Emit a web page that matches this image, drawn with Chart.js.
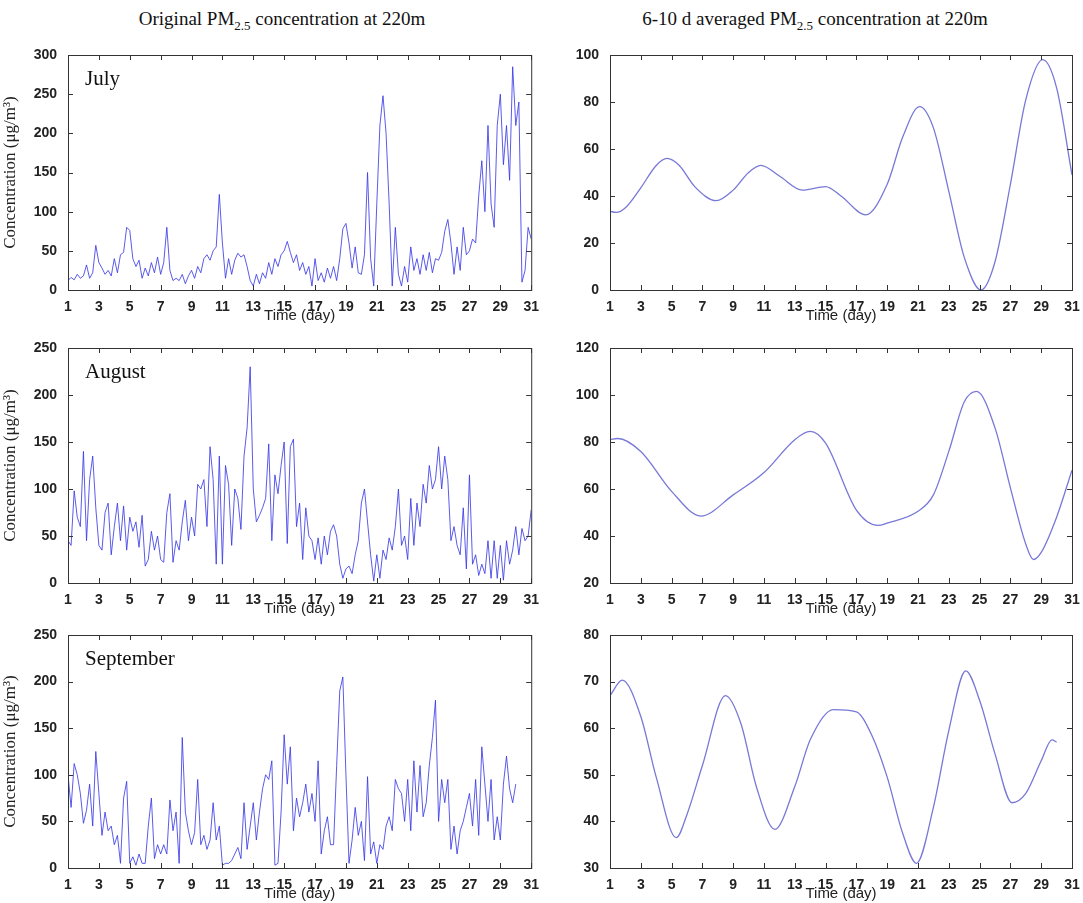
<!DOCTYPE html>
<html>
<head>
<meta charset="utf-8">
<title>PM2.5 concentration at 220m</title>
<script src="https://cdn.jsdelivr.net/npm/chart.js@4.4.1/dist/chart.umd.min.js"></script>
<style>
    body { margin: 0; background: #fff; width: 1083px; height: 903px; position: relative; overflow: hidden; }
    .head { position: absolute; top: 8px; font: 19px "Liberation Serif", serif; color: #111; white-space: nowrap; transform: translateX(-50%); }
    .head sub { font-size: 13px; }
    canvas { position: absolute; }
</style>
</head>
<body>
<div class="head" style="left:282px">Original PM<sub>2.5</sub> concentration at 220m</div>
<div class="head" style="left:815px">6-10 d averaged PM<sub>2.5</sub> concentration at 220m</div>

<canvas id="julyRaw" width="540" height="285" style="left:0;top:40px"></canvas>
<canvas id="julyAvg" width="543" height="285" style="left:540px;top:40px"></canvas>
<canvas id="augRaw" width="540" height="285" style="left:0;top:333px"></canvas>
<canvas id="augAvg" width="543" height="285" style="left:540px;top:333px"></canvas>
<canvas id="sepRaw" width="540" height="285" style="left:0;top:618px"></canvas>
<canvas id="sepAvg" width="543" height="285" style="left:540px;top:618px"></canvas>

<script>
// Sampling of the original series (read every 0.2 day, starting at day 1)
const DAY_STEP = 0.2;

// July, original concentration (ug/m3)
const julyRaw = [
    12, 16, 13, 20, 15,   18, 32, 15, 22, 57,   35, 28, 20, 25, 18,   40, 22, 45, 48, 80,
    76, 40, 30, 38, 15,   28, 18, 35, 22, 42,   20, 35, 80, 25, 12,   15, 12, 20, 8, 18,
    25, 15, 30, 22, 40,   45, 38, 50, 55, 122,  60, 15, 40, 20, 38,   47, 42, 45, 30, 12,
    5, 20, 8, 22, 15,     35, 20, 40, 30, 45,   50, 62, 48, 35, 45,   25, 35, 20, 30, 5,
    40, 12, 22, 10, 28,   15, 30, 12, 40, 78,   85, 60, 28, 55, 22,   20, 45, 150, 40, 5,
    110, 210, 248, 200, 110,  5, 80, 20, 5, 30,  10, 55, 25, 40, 20,  45, 25, 48, 22, 40,
    38, 48, 75, 90, 60,   20, 55, 25, 80, 45,   50, 65, 60, 120, 165, 100, 210, 110, 80, 210,
    250, 160, 210, 140, 285,  210, 240, 10, 25, 80,  65
];

// August, original concentration
const augRaw = [
    45, 40, 98, 70, 60,   140, 45, 110, 135, 80,  40, 35, 75, 85, 30,   60, 85, 45, 82, 35,
    70, 55, 65, 38, 72,   18, 25, 55, 35, 50,     25, 22, 75, 95, 22,   45, 35, 65, 88, 45,
    70, 50, 105, 100, 110, 60, 145, 110, 20, 135, 20, 125, 105, 40, 100, 90, 57, 135, 165, 230,
    100, 65, 72, 80, 90,  148, 45, 115, 95, 125,  150, 42, 145, 153, 60, 85, 25, 80, 50, 45,
    25, 48, 20, 50, 30,   55, 62, 50, 20, 5,      15, 18, 10, 30, 45,   85, 100, 65, 30, 2,
    30, 5, 35, 25, 48,    35, 60, 100, 40, 50,    25, 90, 40, 85, 60,   105, 85, 125, 100, 110,
    145, 100, 135, 110, 45, 60, 40, 30, 80, 15,   115, 20, 30, 8, 20,   10, 45, 5, 45, 5,
    40, 3, 45, 20, 35,    60, 30, 58, 45, 50,     78
];

// September, original concentration (ends on day 30)
const sepRaw = [
    100, 65, 112, 100, 80, 48, 62, 90, 45, 125,   80, 35, 60, 40, 45,   25, 35, 5, 75, 93,
    5, 12, 3, 15, 5,      5, 45, 75, 10, 25,      15, 25, 15, 73, 40,   60, 5, 140, 60, 40,
    25, 38, 95, 25, 35,   20, 30, 70, 30, 45,     3, 5, 5, 8, 15,       22, 10, 70, 20, 45,
    70, 30, 60, 85, 100,  95, 115, 3, 5, 60,      143, 90, 130, 40, 75, 55, 70, 90, 60, 80,
    50, 115, 15, 40, 55,  25, 25, 110, 190, 205,  100, 5, 30, 65, 35,   50, 8, 98, 15, 28,
    5, 25, 20, 45, 55,    40, 95, 85, 80, 50,     95, 40, 115, 60, 110, 55, 70, 110, 140, 180,
    50, 95, 70, 95, 20,   45, 15, 40, 50, 65,     80, 45, 95, 35, 130,  90, 50, 95, 30, 55,
    30, 90, 120, 85, 70,  90
];

// 6-10 d band-averaged curves: days and values
const julyAvgDays = [1, 1.4, 2, 3, 4, 4.7, 5.5, 6.5, 7.9, 9, 10, 10.8, 12, 13.5, 15, 16, 17.6, 19, 20, 21.1, 22, 23, 24, 25.1, 26, 27, 28, 29.1, 30, 31];
const julyAvgVals = [33.5, 33, 35, 43.5, 53, 56, 53, 44, 38, 42.5, 50, 53, 48.5, 42.5, 44, 40, 32, 45, 65, 78, 69, 42, 14, 0, 12, 45, 81, 98, 86, 49];

const augAvgDays = [1, 1.5, 3, 5, 6.9, 9, 11, 13, 14, 15, 17, 18.4, 19, 21, 22, 23, 24, 24.8, 26, 27, 28, 28.5, 29, 30, 31];
const augAvgVals = [81, 81.5, 76, 59, 48.5, 57.5, 67, 81, 84.5, 79.5, 51, 44.5, 45.5, 50.5, 57.5, 76, 97, 101.5, 86, 60.5, 36.5, 30, 33, 48, 68];

const sepAvgDays = [1, 1.8, 3, 4, 5.3, 6, 7, 8.5, 9.5, 10.5, 11.7, 13, 14, 15.5, 17, 18, 19, 20, 20.9, 22, 23, 24.1, 25, 26, 27.1, 28, 29, 29.7, 30];
const sepAvgVals = [67, 70.3, 62.5, 49.5, 36.5, 41.5, 52, 67, 61, 47.5, 38.3, 47.5, 57.5, 64, 63.5, 58.5, 49.5, 37.5, 31, 43, 59.5, 72.3, 66, 54.5, 44, 46, 53, 57.5, 57];

const dayTicksStep = 2;
const RAW_COLOR = 'rgba(55, 55, 230, 0.82)';
const AVG_COLOR = 'rgb(120, 120, 215)';

/**
 * Frame plugin: closed box with inward ticks on all four sides,
 * plus the month label in the upper-left corner
 */
const framePlugin = {
    id: 'frame',
    afterDraw(chart, args, opts) {
        const { ctx, chartArea: a, scales } = chart;
        ctx.save();
        ctx.strokeStyle = '#333';
        ctx.lineWidth = 1;
        ctx.strokeRect(a.left + 0.5, a.top + 0.5, a.right - a.left, a.bottom - a.top);
        ctx.beginPath();
        scales.x.ticks.forEach(t => {
            const px = Math.round(scales.x.getPixelForValue(t.value)) + 0.5;
            ctx.moveTo(px, a.bottom); ctx.lineTo(px, a.bottom - 5);
            ctx.moveTo(px, a.top); ctx.lineTo(px, a.top + 5);
        });
        scales.y.ticks.forEach(t => {
            const py = Math.round(scales.y.getPixelForValue(t.value)) + 0.5;
            ctx.moveTo(a.left, py); ctx.lineTo(a.left + 5, py);
            ctx.moveTo(a.right, py); ctx.lineTo(a.right - 5, py);
        });
        ctx.stroke();
        if (opts.label) {
            ctx.fillStyle = '#111';
            ctx.font = '21px "Liberation Serif", serif';
            ctx.textBaseline = 'top';
            ctx.fillText(opts.label, a.left + 17, a.top + 14);
        }
        ctx.restore();
    }
};

/**
 * Build one panel
 */
function makePanel(id, points, cfg) {
    const tickFont = { family: 'Liberation Sans', size: 14, weight: 'bold' };
    return new Chart(document.getElementById(id), {
        type: 'line',
        data: {
            datasets: [{
                data: points,
                borderColor: cfg.color,
                borderWidth: cfg.lineWidth,
                pointRadius: 0,
                tension: 0,
                cubicInterpolationMode: cfg.smooth ? 'monotone' : 'default'
            }]
        },
        options: {
            responsive: false,
            animation: false,
            devicePixelRatio: 1,
            layout: { padding: { top: cfg.padTop, right: cfg.padRight, left: 0, bottom: 0 } },
            plugins: {
                legend: { display: false },
                tooltip: { enabled: false },
                frame: { label: cfg.label }
            },
            scales: {
                x: {
                    type: 'linear',
                    min: 1,
                    max: 31,
                    grid: { display: false },
                    border: { display: false },
                    ticks: { stepSize: dayTicksStep, font: tickFont, color: '#222', padding: 1, maxRotation: 0 },
                    title: {
                        display: true,
                        text: 'Time (day)',
                        color: '#222',
                        font: { family: 'Liberation Sans', size: 15 },
                        padding: { top: -2, bottom: 0 }
                    },
                    afterFit(scale) { scale.height = 35; }
                },
                y: {
                    min: cfg.yMin,
                    max: cfg.yMax,
                    grid: { display: false },
                    border: { display: false },
                    ticks: { stepSize: cfg.yStep, font: tickFont, color: '#222', padding: 3 },
                    title: {
                        display: !!cfg.yTitle,
                        text: cfg.yTitle || '',
                        color: '#222',
                        font: { family: 'Liberation Serif', size: 17 },
                        padding: { top: 0, bottom: 2 }
                    },
                    afterFit(scale) { scale.width = cfg.yWidth; }
                }
            }
        },
        plugins: [framePlugin]
    });
}

const rawPoints = arr => arr.map((v, i) => ({ x: 1 + i * DAY_STEP, y: v }));
const avgPoints = (days, vals) => days.map((d, i) => ({ x: d, y: vals[i] }));

const Y_TITLE = 'Concentration (\u03bcg/m\u00b3)';
const rawCfg = { color: RAW_COLOR, lineWidth: 1, smooth: false, padRight: 8, yWidth: 68, yTitle: Y_TITLE, padTop: 15 };
const avgCfg = { color: AVG_COLOR, lineWidth: 1.3, smooth: true, padRight: 11, yWidth: 70, padTop: 15 };

makePanel('julyRaw', rawPoints(julyRaw), { ...rawCfg, yMin: 0, yMax: 300, yStep: 50, label: 'July' });
makePanel('augRaw', rawPoints(augRaw), { ...rawCfg, yMin: 0, yMax: 250, yStep: 50, label: 'August' });
makePanel('sepRaw', rawPoints(sepRaw), { ...rawCfg, yMin: 0, yMax: 250, yStep: 50, label: 'September', padTop: 17 });

makePanel('julyAvg', avgPoints(julyAvgDays, julyAvgVals), { ...avgCfg, yMin: 0, yMax: 100, yStep: 20 });
makePanel('augAvg', avgPoints(augAvgDays, augAvgVals), { ...avgCfg, yMin: 20, yMax: 120, yStep: 20 });
makePanel('sepAvg', avgPoints(sepAvgDays, sepAvgVals), { ...avgCfg, yMin: 30, yMax: 80, yStep: 10, padTop: 17 });
</script>
</body>
</html>
